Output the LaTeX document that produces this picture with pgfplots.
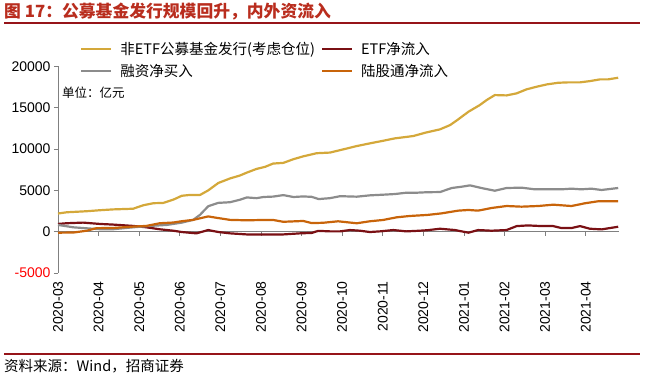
\documentclass[border=0pt]{standalone}
\usepackage{fontspec}
\setmainfont{Liberation Sans}
\newfontfamily\cjk{Noto Sans CJK SC}
\usepackage{pgfplots}
\pgfplotsset{compat=1.18}
\definecolor{cyellow}{RGB}{212,168,58}
\definecolor{cdred}{RGB}{122,16,20}
\definecolor{cgray}{RGB}{140,140,140}
\definecolor{corange}{RGB}{200,100,10}
\definecolor{axgray}{RGB}{128,128,128}
\definecolor{titlered}{RGB}{185,45,30}
\definecolor{ruleline}{RGB}{150,20,25}
\begin{document}
\begin{tikzpicture}
\useasboundingbox (0bp,0bp) rectangle (652bp,380bp);
\node[anchor=west, text=titlered, inner sep=0, font=\cjk\bfseries\fontsize{16.8bp}{18bp}\selectfont] at (4bp,368bp) {图 17：公募基金发行规模回升，内外资流入};
\draw[ruleline, line width=1.5bp] (4bp,357bp) -- (640bp,357bp);
\draw[ruleline, line width=1.2bp] (4bp,26bp) -- (640bp,26bp);
\node[anchor=west, inner sep=0, font=\cjk\fontsize{14.5bp}{16bp}\selectfont] at (4bp,14bp) {资料来源：Wind，招商证券};
\begin{axis}[
  at={(58bp,107bp)}, anchor=south west,
  scale only axis, width=561bp, height=206.5bp,
  xmin=0, xmax=13.82, ymin=-5000, ymax=20000,
  axis y line*=left, axis x line*=middle,
  hide obscured x ticks=false,
  axis line style={-, draw=axgray, line width=0.8bp},
  tick style={draw=axgray, line width=0.8bp},
  tick align=outside, major tick length=4bp,
  xtick={0,...,13},
  xticklabels={2020-03,2020-04,2020-05,2020-06,2020-07,2020-08,2020-09,2020-10,2020-11,2020-12,2021-01,2021-02,2021-03,2021-04},
  xticklabel style={rotate=90, anchor=east, font=\fontsize{14bp}{16bp}\selectfont},
  xticklabel shift={42bp},
  scaled y ticks=false,
  ytick={-5000,0,5000,10000,15000,20000},
  yticklabels={{\textcolor{red}{-5000}},0,5000,10000,15000,20000},
  yticklabel style={font=\fontsize{14bp}{16bp}\selectfont},
  /pgf/number format/assume math mode=true,
  legend columns=2,
  legend style={at={(22bp,233bp)}, anchor=north west, draw=none, fill=none,
    font=\cjk\fontsize{14.5bp}{16bp}\selectfont, inner sep=0pt,
    row sep=4bp,
    /tikz/every odd column/.append style={column sep=6bp},
    /tikz/every even column/.append style={column sep=4bp}},
  legend cell align=left,
  legend image code/.code={\draw[#1] (0bp,0bp) -- (30bp,0bp);},
  every axis plot/.append style={line width=2.2bp, no markers, line join=round},
  clip=false,
]
\addplot[cyellow] coordinates {(0,2200) (0.21,2350) (0.71,2480) (1.03,2600) (1.36,2700) (1.85,2780) (2.10,3200) (2.35,3450) (2.59,3480) (2.84,3880) (3.05,4350) (3.25,4450) (3.50,4450) (3.70,5000) (3.95,5900) (4.24,6450) (4.48,6800) (4.65,7150) (4.89,7600) (5.10,7850) (5.30,8250) (5.55,8330) (5.80,8780) (6.04,9120) (6.37,9500) (6.70,9580) (7.03,9970) (7.36,10370) (7.68,10690) (8.01,11010) (8.30,11300) (8.75,11580) (9.06,12000) (9.41,12390) (9.66,12910) (9.86,13600) (10.11,14520) (10.39,15330) (10.56,15940) (10.76,16540) (11.05,16500) (11.30,16750) (11.54,17230) (11.79,17550) (12.04,17830) (12.32,18030) (12.57,18080) (12.86,18080) (13.10,18230) (13.35,18440) (13.55,18440) (13.80,18640)};
\addlegendentry{非ETF公募基金发行(考虑仓位)}
\addplot[cdred] coordinates {(0,940) (0.21,1025) (0.62,1100) (1.03,940) (1.36,860) (1.85,700) (2.18,530) (2.51,290) (2.84,120) (3.05,-40) (3.41,-200) (3.70,200) (3.95,-40) (4.24,-200) (4.65,-330) (5.06,-330) (5.55,-330) (5.96,-200) (6.25,-150) (6.41,100) (6.70,40) (6.95,40) (7.19,200) (7.44,120) (7.68,-40) (7.93,40) (8.26,200) (8.58,40) (8.91,120) (9.10,180) (9.41,360) (9.78,200) (10.11,-120) (10.35,200) (10.68,120) (11.05,200) (11.30,680) (11.58,760) (11.91,680) (12.20,680) (12.40,440) (12.65,440) (12.86,680) (13.10,360) (13.39,280) (13.80,600)};
\addlegendentry{ETF净流入}
\addplot[cgray] coordinates {(0,820) (0.38,530) (0.71,410) (1.03,300) (1.36,300) (1.85,530) (2.27,700) (2.68,820) (3.05,1100) (3.33,1430) (3.50,2050) (3.70,3080) (3.95,3490) (4.24,3570) (4.48,3870) (4.65,4150) (4.89,4060) (5.06,4200) (5.30,4250) (5.55,4430) (5.80,4200) (6.04,4270) (6.25,4220) (6.42,3950) (6.70,4060) (6.95,4300) (7.36,4240) (7.68,4400) (8.01,4480) (8.30,4560) (8.58,4720) (8.83,4720) (9.10,4780) (9.41,4800) (9.70,5290) (9.95,5450) (10.15,5610) (10.43,5290) (10.76,4960) (11.05,5290) (11.42,5330) (11.75,5130) (12.07,5130) (12.40,5130) (12.65,5210) (12.89,5130) (13.14,5210) (13.39,5050) (13.80,5290)};
\addlegendentry{融资净买入}
\addplot[corange] coordinates {(0,-120) (0.38,-100) (0.71,120) (0.95,430) (1.36,450) (1.85,615) (2.18,700) (2.51,1025) (2.84,1110) (3.05,1270) (3.33,1430) (3.70,1850) (3.91,1680) (4.24,1430) (4.65,1380) (5.06,1420) (5.30,1420) (5.55,1200) (5.80,1250) (6.04,1300) (6.25,1040) (6.53,1080) (6.90,1260) (7.36,1020) (7.68,1260) (8.01,1420) (8.34,1740) (8.66,1900) (9.10,2030) (9.45,2220) (9.86,2550) (10.11,2630) (10.35,2550) (10.68,2870) (11.05,3110) (11.42,3030) (11.83,3110) (12.20,3270) (12.65,3110) (12.98,3440) (13.30,3680) (13.80,3680)};
\addlegendentry{陆股通净流入}
\end{axis}
\node[anchor=west, inner sep=0, font=\cjk\fontsize{12.5bp}{15bp}\selectfont] at (62bp,287bp) {单位：亿元};
\end{tikzpicture}
\end{document}
